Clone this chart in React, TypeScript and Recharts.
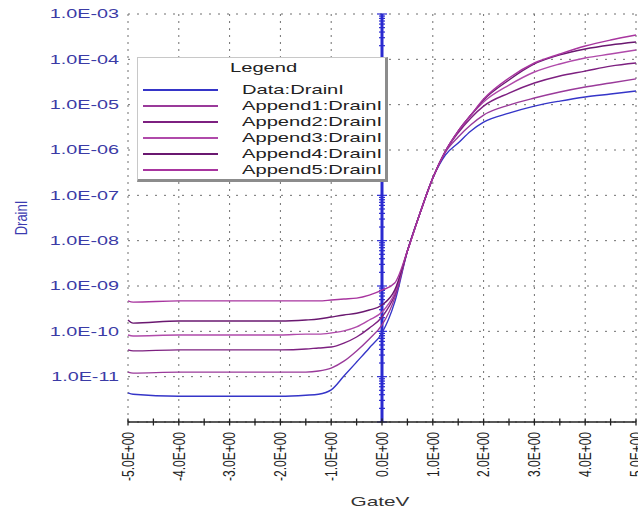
import React from 'react';
import { LineChart, Line, XAxis, YAxis, CartesianGrid, ReferenceLine, Legend } from 'recharts';

// Gate voltage sample positions
const GATE_V = [-5, -4.9, -4, -3, -2, -1.5, -1.25, -1, -0.75, -0.5, -0.25, 0, 0.25, 0.5, 0.75, 1, 1.25, 1.5, 1.75, 2, 2.5, 3, 3.5, 4, 4.5, 5];

// Drain current series (A)
const DATA_DRAIN = [4.4e-12, 4.1e-12, 3.7e-12, 3.7e-12, 3.7e-12, 3.9e-12, 4.1e-12, 5.1e-12, 1.03e-11, 2.1e-11, 4.3e-11, 9.2e-11, 4.4e-10, 5.9e-9, 4.1e-8, 2.4e-7, 7.8e-7, 1.43e-6, 2.62e-6, 4.1e-6, 6.5e-6, 9.3e-6, 1.2e-5, 1.48e-5, 1.72e-5, 2.0e-5];
const APPEND1 = [1.26e-11, 1.2e-11, 1.26e-11, 1.26e-11, 1.26e-11, 1.26e-11, 1.33e-11, 1.55e-11, 2.2e-11, 3.7e-11, 6.8e-11, 1.38e-10, 5.4e-10, 5.9e-9, 4.1e-8, 2.4e-7, 9.0e-7, 1.94e-6, 3.6e-6, 5.9e-6, 9.8e-6, 1.4e-5, 1.9e-5, 2.45e-5, 3.0e-5, 3.7e-5];
const APPEND2 = [3.9e-11, 3.7e-11, 3.9e-11, 3.9e-11, 3.9e-11, 4.07e-11, 4.3e-11, 4.5e-11, 5.5e-11, 7.5e-11, 1.18e-10, 2.07e-10, 6.3e-10, 5.9e-9, 4.1e-8, 2.4e-7, 9.5e-7, 2.4e-6, 5.1e-6, 9.3e-6, 1.8e-5, 3.0e-5, 4.3e-5, 5.5e-5, 7.1e-5, 8.3e-5];
const APPEND3 = [8.3e-11, 7.9e-11, 8.3e-11, 8.3e-11, 8.3e-11, 8.7e-11, 8.7e-11, 9.2e-11, 1.02e-10, 1.25e-10, 1.78e-10, 2.67e-10, 7.0e-10, 5.9e-9, 4.1e-8, 2.4e-7, 9.5e-7, 2.62e-6, 5.9e-6, 1.15e-5, 2.7e-5, 5.25e-5, 7.9e-5, 1.07e-4, 1.31e-4, 1.61e-4];
const APPEND4 = [1.78e-10, 1.52e-10, 1.69e-10, 1.69e-10, 1.69e-10, 1.78e-10, 1.87e-10, 2.07e-10, 2.29e-10, 2.5e-10, 2.95e-10, 3.8e-10, 8.1e-10, 5.9e-9, 4.1e-8, 2.4e-7, 9.5e-7, 2.62e-6, 5.9e-6, 1.27e-5, 3.5e-5, 7.9e-5, 1.25e-4, 1.69e-4, 2.07e-4, 2.41e-4];
const APPEND5 = [4.7e-10, 4.4e-10, 4.7e-10, 4.7e-10, 4.7e-10, 4.7e-10, 4.7e-10, 4.9e-10, 5.16e-10, 5.4e-10, 6.3e-10, 8.1e-10, 1.16e-9, 5.9e-9, 4.1e-8, 2.4e-7, 9.5e-7, 2.62e-6, 5.9e-6, 1.33e-5, 3.87e-5, 8.3e-5, 1.31e-4, 1.97e-4, 2.67e-4, 3.44e-4];

const SERIES_NAMES = ['Data:DrainI', 'Append1:DrainI', 'Append2:DrainI', 'Append3:DrainI', 'Append4:DrainI', 'Append5:DrainI'];
const SERIES_KEYS = ['data', 'a1', 'a2', 'a3', 'a4', 'a5'];
const SERIES_COLORS = ['#3535c8', '#9a3a9a', '#7d2080', '#b04aaa', '#6a1870', '#a8359f'];

const X_MAJOR = [-5, -4, -3, -2, -1, 0, 1, 2, 3, 4, 5];
const X_MINOR = [-5, -4.5, -4, -3.5, -3, -2.5, -2, -1.5, -1, -0.5, 0, 0.5, 1, 1.5, 2, 2.5, 3, 3.5, 4, 4.5, 5];
const Y_TICKS = [1e-12, 1e-11, 1e-10, 1e-9, 1e-8, 1e-7, 1e-6, 1e-5, 1e-4, 1e-3];

// Visible parts of the blue zero-volt axis (the legend box hides the span in between)
const ZERO_AXIS_SPANS = [
  [1e-12, 1.97e-7],
  [1.12e-4, 1e-3],
];

const rows = GATE_V.map((x, i) => ({
  x,
  data: DATA_DRAIN[i],
  a1: APPEND1[i],
  a2: APPEND2[i],
  a3: APPEND3[i],
  a4: APPEND4[i],
  a5: APPEND5[i],
}));

const FONT = '"Liberation Sans", Arial, sans-serif';
const BLUE = '#2a2ad0';

const pad2 = (n: number) => String(Math.abs(n)).padStart(2, '0');
const fmtY = (v: number) => {
  const e = Math.round(Math.log10(v));
  return `1.0E${e < 0 ? '-' : '+'}${pad2(e)}`;
};
const fmtX = (v: number) => {
  const [m, e] = v.toExponential(1).split('e');
  const n = parseInt(e, 10);
  return `${m}E${n < 0 ? '-' : '+'}${pad2(n)}`;
};

const gridX = (p: any) => {
  const s = p && p.xAxis && p.xAxis.scale;
  if (typeof s === 'function') return X_MAJOR.map((v) => s(v));
  const o = p.offset;
  const lo = X_MAJOR[0];
  const hi = X_MAJOR[X_MAJOR.length - 1];
  return X_MAJOR.map((v) => o.left + ((v - lo) / (hi - lo)) * o.width);
};

const XTick = (props: any) => {
  const { x, y, payload } = props;
  const v = payload.value;
  const major = Number.isInteger(v);
  return (
    <g>
      <line x1={x} x2={x} y1={y - 3.5} y2={y + 3.5} stroke="#222" strokeWidth={1.3} />
      {major && (
        <text
          transform={`translate(${x},${y + 10}) rotate(-90) scale(1,1.4)`}
          textAnchor="end"
          dy="0.35em"
          fontSize={12}
          fill="#222"
          fontFamily={FONT}
        >
          {fmtX(v)}
        </text>
      )}
    </g>
  );
};

const YTick = (props: any) => {
  const { x, y, payload } = props;
  const v = payload.value;
  if (v === Y_TICKS[0]) return <g />;
  return (
    <text
      transform={`translate(${x},${y}) scale(1.65,1)`}
      textAnchor="end"
      dy="0.36em"
      fontSize={12}
      fill="#3b3ba6"
      fontFamily={FONT}
    >
      {fmtY(v)}
    </text>
  );
};

// Blue vertical axis with log minor ticks, for a span [lo, hi] of values
const makeBlueAxis = (lo: number, hi: number) => (props: any) => {
  const { x1, y1, y2 } = props;
  const top = Math.min(y1, y2);
  const bottom = Math.max(y1, y2);
  const llo = Math.log10(lo);
  const lhi = Math.log10(hi);
  const ppd = (bottom - top) / (lhi - llo);
  const marks: React.ReactNode[] = [];
  for (let d = Math.floor(llo); d <= Math.ceil(lhi); d++) {
    for (let k = 1; k <= 9; k++) {
      const lv = d + Math.log10(k);
      if (lv < llo - 1e-9 || lv > lhi + 1e-9) continue;
      const yy = bottom - (lv - llo) * ppd;
      const w = k === 1 ? 5 : 3;
      marks.push(<line key={`${d}-${k}`} x1={x1 - w} x2={x1 + w} y1={yy} y2={yy} stroke={BLUE} strokeWidth={1.2} />);
    }
  }
  return (
    <g>
      <line x1={x1} x2={x1} y1={top} y2={bottom} stroke={BLUE} strokeWidth={3} />
      {marks}
    </g>
  );
};

const txt = (size: number, sx: number): React.CSSProperties => ({
  position: 'absolute',
  fontSize: size,
  lineHeight: '16px',
  transform: `scaleX(${sx})`,
  transformOrigin: 'left center',
  whiteSpace: 'nowrap',
  color: '#222',
  fontFamily: FONT,
});

const LegendBox = (props: any) => {
  const payload = [...(props.payload || [])].sort(
    (a: any, b: any) => SERIES_NAMES.indexOf(a.value) - SERIES_NAMES.indexOf(b.value)
  );
  return (
    <div
      style={{
        position: 'relative',
        width: 251,
        height: 125,
        boxSizing: 'border-box',
        background: '#fff',
        borderTop: '1px solid #c8c8c8',
        borderLeft: '1px solid #c8c8c8',
        borderRight: '3px solid #8c8c8c',
        borderBottom: '3px solid #8c8c8c',
      }}
    >
      <div style={{ ...txt(13, 1.55), left: 92, top: 2 }}>Legend</div>
      {payload.map((p: any, i: number) => (
        <React.Fragment key={i}>
          <div style={{ position: 'absolute', left: 5, top: 31 + 16 * i, width: 75, height: 2, background: p.color }} />
          <div style={{ ...txt(13, 1.55), left: 104, top: 24 + 16 * i }}>{p.value}</div>
        </React.Fragment>
      ))}
    </div>
  );
};

const YLabel = (props: any) => {
  const vb = props.viewBox || {};
  const cx = vb.x + 19;
  const cy = vb.y + vb.height / 2;
  return (
    <text
      transform={`translate(${cx},${cy}) rotate(-90) scale(1,1.3)`}
      textAnchor="middle"
      fontSize={13}
      fill="#3b3bb0"
      fontFamily={FONT}
    >
      DrainI
    </text>
  );
};

const XLabel = (props: any) => {
  const vb = props.viewBox || {};
  const cx = vb.x + vb.width / 2 - 2;
  const cy = vb.y + 84;
  return (
    <text
      transform={`translate(${cx},${cy}) scale(1.6,1)`}
      textAnchor="middle"
      fontSize={13}
      fill="#333"
      fontFamily={FONT}
    >
      GateV
    </text>
  );
};

export default function App() {
  return (
    <div style={{ position: 'absolute', left: 0, top: 0, width: 638, height: 510, background: '#fff' }}>
      <LineChart width={638} height={510} data={rows} margin={{ top: 14, right: 2, bottom: 0, left: 8 }}>
        <CartesianGrid horizontal={true} vertical={false} stroke="#6f6f6f" strokeDasharray="2 7" />
        <CartesianGrid
          horizontal={false}
          vertical={true}
          verticalCoordinatesGenerator={gridX}
          stroke="#6f6f6f"
          strokeDasharray="2 5"
        />
        {ZERO_AXIS_SPANS.map(([lo, hi], i) => (
          <ReferenceLine
            key={`z${i}`}
            segment={[
              { x: 0, y: lo },
              { x: 0, y: hi },
            ]}
            stroke={BLUE}
            shape={makeBlueAxis(lo, hi)}
          />
        ))}
        <XAxis
          dataKey="x"
          type="number"
          domain={[-5, 5]}
          ticks={X_MINOR}
          interval={0}
          height={88}
          tickSize={0}
          tickMargin={0}
          tickLine={false}
          axisLine={{ stroke: '#222', strokeWidth: 1.5 }}
          tick={<XTick />}
          label={<XLabel />}
        />
        <YAxis
          type="number"
          scale="log"
          domain={[1e-12, 1e-3]}
          ticks={Y_TICKS}
          interval={0}
          width={120}
          tickSize={0}
          tickMargin={9}
          tickLine={false}
          axisLine={false}
          allowDataOverflow
          tick={<YTick />}
          label={<YLabel />}
        />
        {SERIES_KEYS.map((k, i) => (
          <Line
            key={k}
            dataKey={k}
            name={SERIES_NAMES[i]}
            type="monotone"
            stroke={SERIES_COLORS[i]}
            strokeWidth={1.4}
            dot={false}
            isAnimationActive={false}
          />
        ))}
        <Legend
          layout="vertical"
          align="center"
          verticalAlign="middle"
          content={<LegendBox />}
          wrapperStyle={{ left: 137, top: 57, width: 251, height: 125, zIndex: 10 }}
        />
      </LineChart>
    </div>
  );
}
